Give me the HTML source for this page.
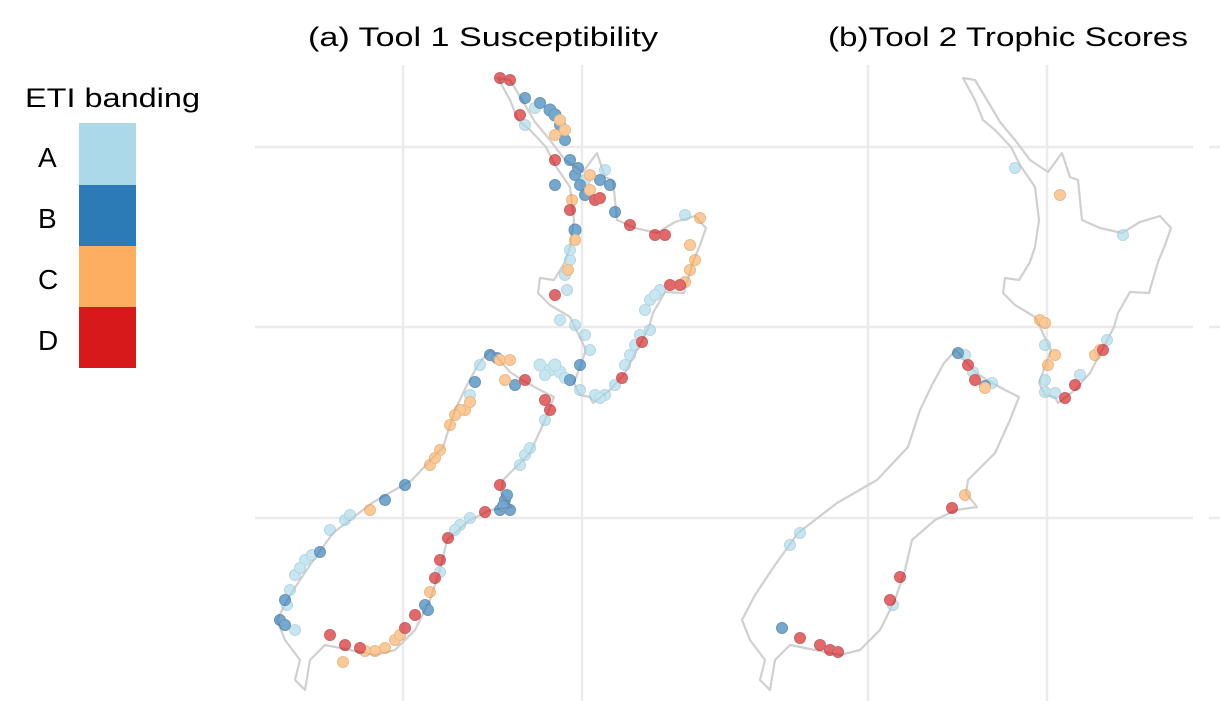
<!DOCTYPE html>
<html><head><meta charset="utf-8"><style>
html,body{margin:0;padding:0;background:#fff;}
svg{display:block;font-family:"Liberation Sans",sans-serif;}
</style></head><body>
<svg width="1220" height="701" viewBox="0 0 1220 701" xmlns="http://www.w3.org/2000/svg">
<rect width="1220" height="701" fill="#fff"/>
<g stroke="#ebebeb" stroke-width="2.5">
<line x1="255" y1="147" x2="1193" y2="147"/><line x1="255" y1="327" x2="1193" y2="327"/><line x1="255" y1="518" x2="1193" y2="518"/>
<line x1="1209" y1="147" x2="1220" y2="147"/><line x1="1209" y1="327" x2="1220" y2="327"/><line x1="1209" y1="518" x2="1220" y2="518"/>
<line x1="403" y1="65" x2="403" y2="701"/><line x1="582" y1="65" x2="582" y2="701"/>
<line x1="868" y1="65" x2="868" y2="701"/><line x1="1047" y1="65" x2="1047" y2="701"/>
</g>
<text x="308" y="46" font-size="27" textLength="350" lengthAdjust="spacingAndGlyphs">(a) Tool 1 Susceptibility</text>
<text x="828" y="46" font-size="27" textLength="360" lengthAdjust="spacingAndGlyphs">(b)Tool 2 Trophic Scores</text>
<text x="25" y="107" font-size="27" textLength="175" lengthAdjust="spacingAndGlyphs">ETI banding</text>
<rect x="79" y="123" width="57" height="62" fill="#abd9e9"/>
<rect x="79" y="185" width="57" height="61" fill="#2c7bb6"/>
<rect x="79" y="246" width="57" height="61" fill="#fdae61"/>
<rect x="79" y="307" width="57" height="61" fill="#d7191c"/>
<text x="38" y="167" font-size="28">A</text>
<text x="38" y="228" font-size="28">B</text>
<text x="38" y="289" font-size="28">C</text>
<text x="38" y="350" font-size="28">D</text>
<defs>
<g id="nz" fill="none" stroke="#d0d0d0" stroke-width="2.2" stroke-linejoin="round">
<path d="M963,78 L975,80 L990,105 L1000,122 L1015,140 L1030,160 L1048,172 L1062,153 L1070,177 L1078,180 L1082,220 L1100,228 L1122,233 L1140,222 L1160,216 L1171,228 L1165,245 L1158,262 L1149,293 L1130,292 L1118,313 L1114,327 L1102,350 L1090,373 L1075,390 L1058,403 L1055,397 L1045,395 L1039,383 L1051,350 L1035,317 L1015,305 L1003,293 L1005,278 L1019,280 L1030,262 L1035,247 L1039,220 L1035,187 L1020,165 L1011,147 L995,130 L983,120 L975,100 L963,78 Z"/>
<path d="M987,380 L975,372 L956,350 L944,363 L932,385 L920,410 L908,447 L877,480 L837,503 L798,533 L775,565 L755,595 L742,620 L750,640 L765,660 L760,680 L770,690 L775,660 L790,645 L815,650 L840,655 L860,650 L880,630 L895,600 L905,570 L912,540 L935,520 L956,510 L977,507 L966,493 L968,480 L995,453 L1010,420 L1019,397 L1005,390 L987,380 Z"/>
</g>
</defs>
<use href="#nz"/>
<use href="#nz" transform="translate(-465,0)"/>
<g opacity="0.65" stroke-width="1">
<g fill="#abd9e9" stroke="#8fc3d8">
<circle cx="525" cy="125" r="5.5"/><circle cx="585" cy="180" r="5.5"/><circle cx="685" cy="215" r="5.5"/><circle cx="660" cy="290" r="5.5"/><circle cx="650" cy="300" r="5.5"/><circle cx="645" cy="310" r="5.5"/><circle cx="650" cy="330" r="5.5"/><circle cx="635" cy="345" r="5.5"/><circle cx="625" cy="365" r="5.5"/><circle cx="605" cy="395" r="5.5"/><circle cx="595" cy="395" r="5.5"/><circle cx="580" cy="390" r="5.5"/><circle cx="540" cy="365" r="6"/><circle cx="550" cy="370" r="6"/><circle cx="560" cy="372" r="6"/><circle cx="545" cy="375" r="5.5"/><circle cx="570" cy="260" r="5.5"/><circle cx="565" cy="275" r="5.5"/><circle cx="560" cy="320" r="5.5"/><circle cx="575" cy="325" r="5.5"/><circle cx="585" cy="335" r="5.5"/><circle cx="590" cy="350" r="5.5"/><circle cx="470" cy="395" r="5.5"/><circle cx="345" cy="520" r="5.5"/><circle cx="330" cy="530" r="5.5"/><circle cx="305" cy="560" r="5.5"/><circle cx="295" cy="575" r="5.5"/><circle cx="290" cy="590" r="5.5"/><circle cx="295" cy="630" r="5.5"/><circle cx="460" cy="525" r="5.5"/><circle cx="470" cy="518" r="5.5"/><circle cx="520" cy="465" r="5.5"/><circle cx="525" cy="455" r="5.5"/><circle cx="545" cy="420" r="5.5"/>
<circle cx="630" cy="355" r="5.5"/><circle cx="640" cy="335" r="5.5"/><circle cx="655" cy="295" r="5.5"/><circle cx="570" cy="250" r="5.5"/><circle cx="567" cy="290" r="5.5"/><circle cx="555" cy="365" r="6"/><circle cx="565" cy="378" r="5.5"/><circle cx="600" cy="398" r="5.5"/><circle cx="615" cy="385" r="5.5"/><circle cx="350" cy="515" r="5.5"/><circle cx="312" cy="555" r="5.5"/><circle cx="300" cy="568" r="5.5"/><circle cx="287" cy="605" r="5.5"/><circle cx="530" cy="448" r="5.5"/><circle cx="455" cy="530" r="5.5"/><circle cx="440" cy="572" r="5.5"/><circle cx="480" cy="365" r="5.5"/><circle cx="535" cy="108" r="5.5"/><circle cx="605" cy="170" r="5.5"/>
<circle cx="1015" cy="168" r="5.5"/><circle cx="1123" cy="235" r="5.5"/><circle cx="1045" cy="380" r="5.5"/><circle cx="1045" cy="392" r="5.5"/><circle cx="1055" cy="393" r="5.5"/><circle cx="1107" cy="340" r="5.5"/><circle cx="1080" cy="375" r="5.5"/><circle cx="965" cy="355" r="5.5"/><circle cx="973" cy="372" r="5.5"/><circle cx="992" cy="383" r="5.5"/><circle cx="800" cy="533" r="5.5"/><circle cx="790" cy="545" r="5.5"/><circle cx="893" cy="605" r="5.5"/><circle cx="1045" cy="345" r="5.5"/>
</g>
<g fill="#2c7bb6" stroke="#1f5f90">
<circle cx="525" cy="98" r="5.5"/><circle cx="540" cy="103" r="5.5"/><circle cx="550" cy="110" r="6"/><circle cx="555" cy="115" r="6"/><circle cx="570" cy="160" r="5.5"/><circle cx="575" cy="175" r="5.5"/><circle cx="580" cy="185" r="5.5"/><circle cx="600" cy="180" r="5.5"/><circle cx="610" cy="185" r="5.5"/><circle cx="615" cy="212" r="5.5"/><circle cx="575" cy="230" r="6"/><circle cx="570" cy="380" r="5.5"/><circle cx="580" cy="365" r="5.5"/><circle cx="490" cy="355" r="5.5"/><circle cx="515" cy="385" r="5.5"/><circle cx="475" cy="382" r="5.5"/><circle cx="405" cy="485" r="5.5"/><circle cx="385" cy="500" r="5.5"/><circle cx="320" cy="552" r="5.5"/><circle cx="285" cy="600" r="5.5"/><circle cx="280" cy="620" r="5.5"/><circle cx="425" cy="605" r="5.5"/><circle cx="428" cy="610" r="5.5"/><circle cx="500" cy="510" r="5.5"/><circle cx="505" cy="500" r="5.5"/><circle cx="510" cy="510" r="5.5"/><circle cx="555" cy="185" r="5.5"/>
<circle cx="560" cy="125" r="5.5"/><circle cx="565" cy="140" r="5.5"/><circle cx="578" cy="168" r="5.5"/><circle cx="585" cy="195" r="5.5"/><circle cx="497" cy="358" r="5.5"/><circle cx="503" cy="506" r="5.5"/><circle cx="507" cy="495" r="5.5"/><circle cx="285" cy="625" r="5.5"/>
<circle cx="958" cy="353" r="5.5"/><circle cx="782" cy="628" r="5.5"/><circle cx="985" cy="386" r="5.5"/>
</g>
<g fill="#fdae61" stroke="#e0954e">
<circle cx="560" cy="120" r="5.5"/><circle cx="565" cy="130" r="5.5"/><circle cx="555" cy="135" r="5.5"/><circle cx="590" cy="175" r="5.5"/><circle cx="700" cy="218" r="5.5"/><circle cx="690" cy="245" r="5.5"/><circle cx="695" cy="260" r="5.5"/><circle cx="690" cy="270" r="5.5"/><circle cx="575" cy="240" r="5.5"/><circle cx="500" cy="360" r="5.5"/><circle cx="505" cy="380" r="5.5"/><circle cx="465" cy="410" r="5.5"/><circle cx="460" cy="410" r="5.5"/><circle cx="455" cy="415" r="5.5"/><circle cx="440" cy="450" r="5.5"/><circle cx="430" cy="465" r="5.5"/><circle cx="370" cy="510" r="5.5"/><circle cx="385" cy="648" r="5.5"/><circle cx="375" cy="651" r="5.5"/><circle cx="395" cy="640" r="5.5"/><circle cx="430" cy="592" r="5.5"/><circle cx="343" cy="662" r="5.5"/><circle cx="510" cy="360" r="5.5"/>
<circle cx="470" cy="402" r="5.5"/><circle cx="450" cy="425" r="5.5"/><circle cx="435" cy="458" r="5.5"/><circle cx="400" cy="635" r="5.5"/><circle cx="365" cy="651" r="5.5"/><circle cx="568" cy="270" r="5.5"/><circle cx="572" cy="200" r="5.5"/><circle cx="590" cy="190" r="5.5"/><circle cx="685" cy="282" r="5.5"/>
<circle cx="1060" cy="195" r="5.5"/><circle cx="1040" cy="320" r="5.5"/><circle cx="1045" cy="323" r="5.5"/><circle cx="1055" cy="355" r="5.5"/><circle cx="1048" cy="365" r="5.5"/><circle cx="1095" cy="355" r="5.5"/><circle cx="1100" cy="350" r="5.5"/><circle cx="965" cy="495" r="5.5"/><circle cx="985" cy="388" r="5.5"/>
</g>
<g fill="#d7191c" stroke="#a81416">
<circle cx="500" cy="78" r="5.5"/><circle cx="510" cy="80" r="5.5"/><circle cx="520" cy="115" r="5.5"/><circle cx="570" cy="210" r="5.5"/><circle cx="595" cy="200" r="5.5"/><circle cx="600" cy="198" r="5.5"/><circle cx="630" cy="225" r="5.5"/><circle cx="655" cy="235" r="5.5"/><circle cx="665" cy="235" r="5.5"/><circle cx="680" cy="285" r="5.5"/><circle cx="670" cy="285" r="5.5"/><circle cx="642" cy="342" r="5.5"/><circle cx="622" cy="378" r="5.5"/><circle cx="555" cy="295" r="5.5"/><circle cx="525" cy="380" r="5.5"/><circle cx="550" cy="410" r="5.5"/><circle cx="545" cy="400" r="5.5"/><circle cx="330" cy="635" r="5.5"/><circle cx="345" cy="645" r="5.5"/><circle cx="360" cy="648" r="5.5"/><circle cx="405" cy="628" r="5.5"/><circle cx="415" cy="615" r="5.5"/><circle cx="435" cy="578" r="5.5"/><circle cx="440" cy="560" r="5.5"/><circle cx="448" cy="538" r="5.5"/><circle cx="500" cy="485" r="5.5"/><circle cx="485" cy="512" r="5.5"/><circle cx="555" cy="160" r="5.5"/>
<circle cx="1065" cy="398" r="5.5"/><circle cx="1075" cy="385" r="5.5"/><circle cx="1103" cy="350" r="5.5"/><circle cx="968" cy="365" r="5.5"/><circle cx="975" cy="380" r="5.5"/><circle cx="952" cy="508" r="5.5"/><circle cx="900" cy="577" r="5.5"/><circle cx="890" cy="600" r="5.5"/><circle cx="800" cy="638" r="5.5"/><circle cx="820" cy="645" r="5.5"/><circle cx="830" cy="650" r="5.5"/><circle cx="838" cy="652" r="5.5"/>
</g>
</g>
</svg>
</body></html>
